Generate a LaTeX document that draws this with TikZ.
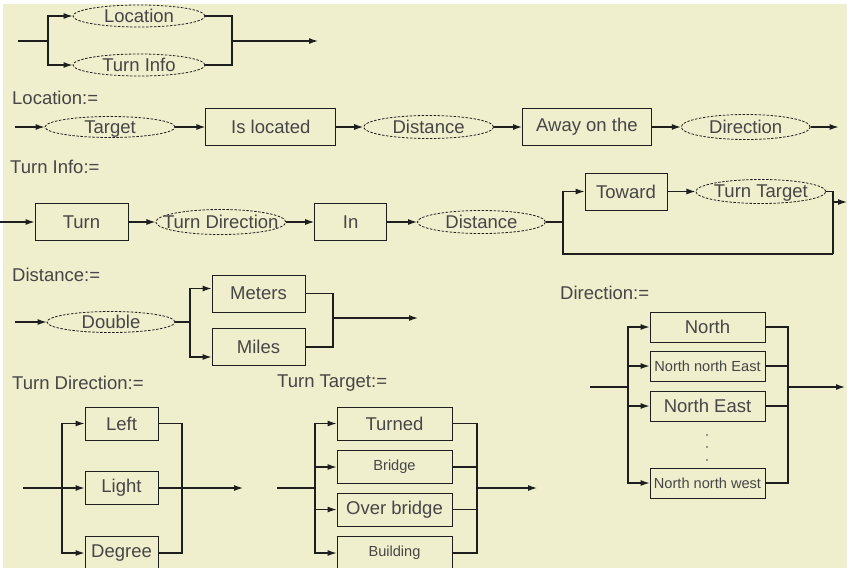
\documentclass[tikz,border=0pt]{standalone}
\usepackage{fontspec}
\setmainfont{Liberation Sans}
\usetikzlibrary{arrows.meta,positioning,shapes.geometric}
\definecolor{paper}{RGB}{239,238,205}
\definecolor{ink}{RGB}{30,30,30}
\definecolor{txt}{RGB}{70,70,70}

\begin{document}
\begin{tikzpicture}[
  x=1pt,y=-1pt,
  font=\fontsize{18.5}{20}\selectfont,
  term/.style={draw=ink,line width=0.8pt,minimum height=37pt,inner sep=0pt,text=txt},
  oval/.style={ellipse,draw=ink,line width=0.8pt,dash pattern=on 2.5pt off 1.5pt,minimum width=130pt,minimum height=23pt,inner sep=0pt,label={[text=txt,text depth=0pt]center:#1}},
  small/.style={font=\fontsize{14.6}{16}\selectfont},
  title/.style={anchor=west,text=txt,inner sep=0pt},
  wire/.style={draw=ink,line width=1.2pt},
  flow/.style={wire,-{Latex[length=9pt,width=6pt]}},
  node distance=28pt
]
  \useasboundingbox (0,0) rectangle (847,568);
  \fill[white] (0,0) rectangle (847,568);
  \fill[paper] (3,4) rectangle (847,568);
  \clip (0,0) rectangle (847,568);

  % start
  \coordinate (in0) at (18,41);
  \coordinate (s0) at (48,41);
  \node[oval=Location,minimum width=132pt,minimum height=22pt] (loc) at (139,16) {};
  \node[oval=Turn Info,minimum width=132pt,minimum height=22pt] (tinfo) at (139,65) {};
  \coordinate (j0) at (232,41);
  \coordinate (out0) at (318,41);

  \draw[wire] (in0) -- (s0);
  \draw[flow] (s0) |- (loc);
  \draw[flow] (s0) |- (tinfo);
  \draw[wire] (loc) -| (j0);
  \draw[wire] (tinfo) -| (j0);
  \draw[flow] (j0) -- (out0);

  % Location
  \node[title] (loctitle) at (12,98) {Location:=};
  \coordinate (in1) at (15,127);
  \node[oval=Target,minimum height=21pt] (target) at (110,127) {};
  \node[term,minimum width=130pt,right=30pt of target] (isloc) {Is located};
  \node[oval=Distance,right=27pt of isloc] (dist1) {};
  \node[term,minimum width=129pt,right=28pt of dist1] (away) {Away on the};
  \node[oval=Direction,minimum width=129pt,minimum height=25pt,right=29pt of away] (dir1) {};
  \coordinate[right=28pt of dir1] (out1);

  \draw[flow] (in1) -- (target);
  \draw[flow] (target) -- (isloc);
  \draw[flow] (isloc) -- (dist1);
  \draw[flow] (dist1) -- (away);
  \draw[flow] (away) -- (dir1);
  \draw[flow] (dir1) -- (out1);

  % Turn Info
  \node[title] (tititle) at (10,167) {Turn Info:=};
  \coordinate (in2) at (0,222);
  \node[term,minimum width=93pt] (turn) at (81.5,222) {Turn};
  \node[oval=Turn Direction,minimum height=25pt,right=27pt of turn] (tdir1) {};
  \node[term,minimum width=72pt,right=28pt of tdir1] (inbox) {In};
  \node[oval=Distance,minimum width=128pt,right=30pt of inbox] (dist2) {};
  \coordinate (s2) at (563,222);
  \node[term,minimum width=82pt] (toward) at (626,191.5) {Toward};
  \node[oval=Turn Target,minimum height=24pt,right=28pt of toward] (ttgt1) {};
  \coordinate (j2) at (833,254);
  \coordinate (j2out) at (833,202);
  \coordinate (out2) at (847,202);

  \draw[flow] (in2) -- (turn);
  \draw[flow] (turn) -- (tdir1);
  \draw[flow] (tdir1) -- (inbox);
  \draw[flow] (inbox) -- (dist2);
  \draw[wire] (dist2) -- (s2);
  \draw[flow] (s2) |- (toward);
  \draw[flow] (toward) -- (ttgt1);
  \draw[wire] (s2) |- (j2);
  \draw[wire] (ttgt1) -| (j2);
  \draw[flow] (j2out) -- (out2);

  % Distance
  \node[title] (dtitle) at (12,275) {Distance:=};
  \coordinate (in3) at (15,322);
  \node[oval=Double,minimum width=128pt,minimum height=21pt] (double) at (111,322) {};
  \coordinate (s3) at (190,322);
  \node[term,minimum width=93pt] (meters) at (258.5,293.5) {Meters};
  \node[term,minimum width=93pt] (miles) at (258.5,347) {Miles};
  \coordinate (j3) at (333,318);
  \coordinate (out3) at (418,318);

  \draw[flow] (in3) -- (double);
  \draw[wire] (double) -- (s3);
  \draw[flow] (s3) |- ([yshift=5pt]meters.west);
  \draw[flow] (s3) |- ([yshift=-10pt]miles.west);
  \draw[wire] (meters) -| (j3);
  \draw[wire] (miles) -| (j3);
  \draw[flow] (j3) -- (out3);

  % Direction
  \node[title] (dirtitle) at (560,293) {Direction:=};
  \coordinate (in4) at (590,387);
  \coordinate (s4) at (628,387);
  \node[term,minimum width=115pt,minimum height=30pt] (north) at (707.5,327) {North};
  \node[term,small,minimum width=115pt,minimum height=30pt] (nne) at (707.5,366) {North north East};
  \node[term,minimum width=115pt,minimum height=30pt] (ne) at (707.5,406) {North East};
  \node[term,small,minimum width=115pt,minimum height=30pt] (nnw) at (707.5,483) {North north west};
  \fill[txt] (707,435) circle (0.8pt);
  \fill[txt] (707,447) circle (0.8pt);
  \fill[txt] (707,460) circle (0.8pt);
  \coordinate (j4) at (788,387);
  \coordinate (out4) at (845,387);

  \draw[wire] (in4) -- (s4);
  \draw[flow] (s4) |- (north);
  \draw[flow] (s4) |- (nne);
  \draw[flow] (s4) |- (ne);
  \draw[flow] (s4) |- (nnw);
  \draw[wire] (north) -| (j4);
  \draw[wire] (nne) -| (j4);
  \draw[wire] (ne) -| (j4);
  \draw[wire] (nnw) -| (j4);
  \draw[flow] (j4) -- (out4);

  % Turn Direction
  \node[title] (tdtitle) at (12,383) {Turn Direction:=};
  \coordinate (in5) at (23,488);
  \coordinate (s5) at (62,488);
  \node[term,minimum width=73pt,minimum height=33pt] (left) at (121.5,423.5) {Left};
  \node[term,minimum width=73pt,minimum height=33pt] (light) at (121.5,488) {Light};
  \node[term,minimum width=73pt,minimum height=33pt] (degree) at (121.5,553) {Degree};
  \coordinate (j5) at (182,488);
  \coordinate (out5) at (243,488);

  \draw[flow] (in5) -- (light);
  \draw[flow] (s5) |- (left);
  \draw[flow] (s5) |- (degree);
  \draw[wire] (left) -| (j5);
  \draw[wire] (degree) -| (j5);
  \draw[flow] (light) -- (out5);

  % Turn Target
  \node[title] (tttitle) at (277,383) {Turn Target:=};
  \coordinate (in6) at (277,488);
  \coordinate (s6) at (315,488);
  \node[term,minimum width=115pt,minimum height=33pt] (turned) at (394.5,423.5) {Turned};
  \node[term,small,minimum width=115pt,minimum height=33pt] (bridge) at (394.5,467) {Bridge};
  \node[term,minimum width=115pt,minimum height=33pt] (overb) at (394.5,509.5) {Over bridge};
  \node[term,small,minimum width=115pt,minimum height=33pt] (building) at (394.5,553) {Building};
  \coordinate (j6) at (477,488);
  \coordinate (out6) at (537,488);

  \draw[wire] (in6) -- (s6);
  \draw[flow] (s6) |- (turned);
  \draw[flow] (s6) |- (bridge);
  \draw[flow] (s6) |- (overb);
  \draw[flow] (s6) |- (building);
  \draw[wire] (turned) -| (j6);
  \draw[wire] (bridge) -| (j6);
  \draw[wire] (overb) -| (j6);
  \draw[wire] (building) -| (j6);
  \draw[flow] (j6) -- (out6);
\end{tikzpicture}
\end{document}
